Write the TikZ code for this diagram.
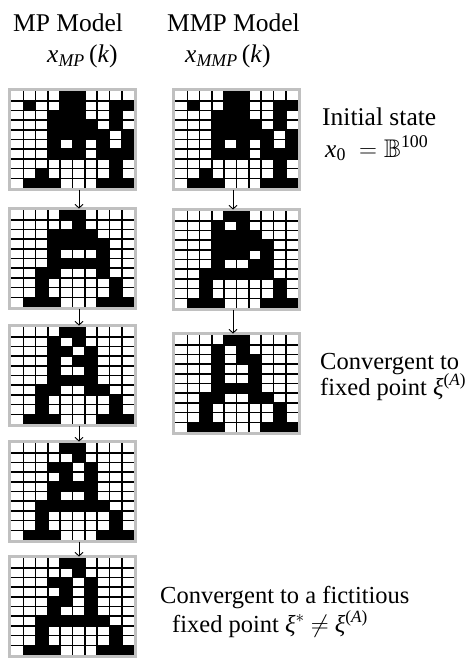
\documentclass[tikz,border=0pt]{standalone}
\usepackage{amsmath,amssymb}
\usepackage{fontspec}
\setmainfont{Liberation Serif}
\usetikzlibrary{arrows.meta}

\definecolor{framegray}{RGB}{192,192,192}

\tikzset{
  gridframe/.style={rectangle, draw=framegray, line width=3pt, fill=white,
    minimum width=126pt, minimum height=100pt, inner sep=0pt, outer sep=0pt},
  gridline/.style={line width=1.6pt, black},
  flow/.style={line width=0.9pt, -{Straight Barb[length=3.5pt,width=8pt]}},
  headtext/.style={anchor=base west, inner sep=0pt, font=\fontsize{25.5}{30}\selectfont},
  sidetext/.style={anchor=base west, inner sep=0pt, font=\fontsize{24.5}{29}\selectfont}
}

% 10x10 binary pattern: one list of black columns per row (0..9)
\newcommand\cellgrid[3]{%
  \node[gridframe, anchor=north west] (#1) at (#2) {};
  \begin{scope}[shift={(#1.north west)}]
    \foreach \rowcells [count=\r from 0] in {#3} {
      \foreach \c in \rowcells {
        \ifnum\c>-1 \fill[black] (1.5+\c*12.3, 1.5+\r*9.7) rectangle ++(12.3,9.7);\fi
      }
    }
    \foreach \i in {1,...,9} {
      \draw[gridline] (1.5+\i*12.3,1.5) -- ++(0,97);
      \draw[gridline] (1.5,1.5+\i*9.7) -- ++(123,0);
    }
  \end{scope}
}

\begin{document}
\begin{tikzpicture}[x=1pt,y=-1pt]
  \useasboundingbox (0,0) rectangle (473,661);

  % column headings
  \node[headtext] (t1) at (13,32) {MP Model};
  \node[headtext] (t2) at (167,32) {MMP Model};
  \node[headtext] (s1) at (47,63) {\textit{x}$_{\textit{MP}}$\,(\textit{k})};
  \node[headtext] (s2) at (185,63) {\textit{x}$_{\textit{MMP}}$\,(\textit{k})};

  % MP model trajectory
  \cellgrid{L1}{9.5,89.5}{{4,5},{1,4,5,8,9},{3,4,5,8},{3,4,5,6,8},{3,4,5,6,7,9},{3,5,7,9},{3,4,5,7,8,9},{8},{2,8},{1,2,3,7,8,9}}
  \cellgrid{L2}{9.5,208.5}{{4,5},{5},{3,4,5,6},{3,4,5,6,7},{3,7},{3,4,5,6,7},{2,3,7},{2,8},{2,8},{1,2,3,7,8,9}}
  \cellgrid{L3}{9.5,325.5}{{4,5},{3,5},{3,4,6},{3,5,6},{3,6},{3,4,5,6},{2,3,6,7},{2,8},{2,8},{1,2,3,7,8,9}}
  \cellgrid{L4}{9.5,441.5}{{4,5},{5},{3,4,6},{4,6},{3,4,5,6},{3,6},{2,3,4,5,6,7},{2,8},{2,8},{1,2,3,7,8,9}}
  \cellgrid{L5}{9.5,556.5}{{4,5},{5},{3,4,6},{4,6},{3,4,6},{3,6},{2,3,4,5,6,7},{2,8},{2,8},{1,2,3,7,8,9}}

  % MMP model trajectory
  \cellgrid{R1}{173.5,89.5}{{4,5},{1,4,5,8,9},{3,4,5,8},{3,4,5,6,8},{3,4,5,6,7,9},{3,5,7,9},{3,4,5,7,8,9},{8},{2,8},{1,2,3,7,8,9}}
  \cellgrid{R2}{173.5,209.5}{{4,5},{3,5},{3,4,5,6},{3,4,5,6,7},{3,4,5,7},{3,6,7},{2,3,4,5,6,7},{2,8},{2,8},{1,2,3,7,8,9}}
  \cellgrid{R3}{173.5,333.5}{{4,5},{3,5},{3,5,6},{3,6},{3,6},{3,4,5,6},{2,3,6,7},{2,8},{2,8},{1,2,3,7,8,9}}

  % arrow axes
  \coordinate (axL) at (79,0);
  \coordinate (axR) at (233,0);

  \draw[flow] (L1.south -| axL) -- (L2.north -| axL);
  \draw[flow] (L2.south -| axL) -- (L3.north -| axL);
  \draw[flow] (L3.south -| axL) -- (L4.north -| axL);
  \draw[flow] (L4.south -| axL) -- (L5.north -| axL);
  \draw[flow] (R1.south -| axR) -- (R2.north -| axR);
  \draw[flow] (R2.south -| axR) -- (R3.north -| axR);

  % annotations
  \node[headtext] (a1) at (322,125) {Initial state};
  \node[headtext] (a2) at (325,157) {\textit{x}$_{\textrm{0}}$ ${}=\mathbb{B}^{\textrm{100}}$};
  \node[sidetext] (b1) at (320,369) {Convergent to};
  \node[sidetext] (b2) at (320,395) {fixed point \textit{ξ}$^{\textrm{(}\textit{A}\textrm{)}}$};
  \node[sidetext] (c1) at (160,603) {Convergent to a fictitious};
  \node[sidetext] (c2) at (172,632) {fixed point \textit{ξ}$^{*}$ $\neq$ \textit{ξ}$^{\textrm{(}\textit{A}\textrm{)}}$};
\end{tikzpicture}
\end{document}
